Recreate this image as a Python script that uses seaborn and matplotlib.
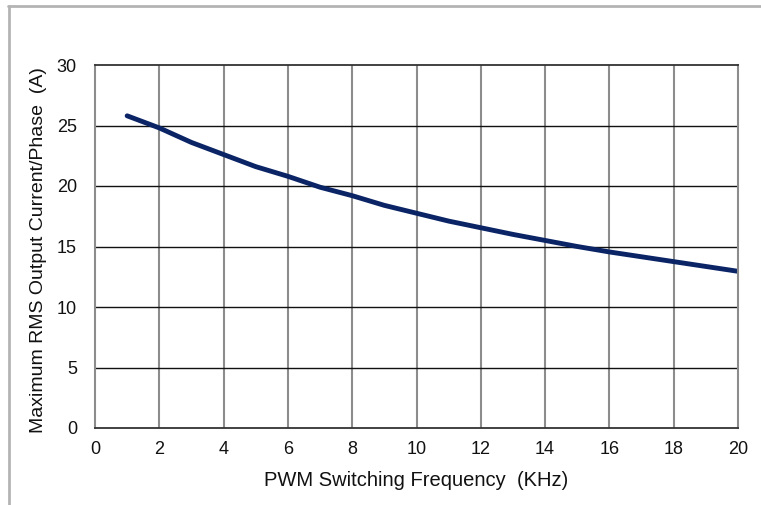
import pandas as pd
import matplotlib
matplotlib.use("Agg")
import matplotlib.pyplot as plt
from matplotlib.lines import Line2D
import seaborn as sns

# data
freq_khz = [1, 2, 3, 4, 5, 6, 7, 8, 9, 10, 11, 12, 13, 14, 15, 16, 17, 18, 19, 20]
current_a = [25.8, 24.8, 23.6, 22.6, 21.6, 20.8, 19.9, 19.2, 18.4, 17.75,
             17.1, 16.55, 16.0, 15.5, 15.0, 14.55, 14.15, 13.75, 13.35, 12.95]
x_ticks = [0, 2, 4, 6, 8, 10, 12, 14, 16, 18, 20]
y_ticks = [0, 5, 10, 15, 20, 25, 30]

df = pd.DataFrame({"freq": freq_khz, "current": current_a})

sns.set_style("white")
plt.rcParams["font.family"] = ["Liberation Sans", "DejaVu Sans"]

fig = plt.figure(figsize=(7.61, 5.05), dpi=100)
ax = fig.add_axes([95 / 761, 77 / 505, 643 / 761, 363 / 505])

sns.lineplot(data=df, x="freq", y="current", ax=ax, color="#0a2466", linewidth=3.5)

ax.set_xlim(0, 20)
ax.set_ylim(0, 30)
ax.set_xticks(x_ticks)
ax.set_yticks(y_ticks)

# grid: gray verticals, dark horizontals
ax.grid(False)
for xv in x_ticks[1:-1]:
    ax.axvline(xv, color="#8c8c8c", linewidth=1.5, zorder=0)
for yv in y_ticks[1:-1]:
    ax.axhline(yv, color="#111111", linewidth=1.0, zorder=0)

for side in ["left", "right"]:
    ax.spines[side].set_color("#8c8c8c")
    ax.spines[side].set_linewidth(1.5)
for side in ["top", "bottom"]:
    ax.spines[side].set_color("#333333")
    ax.spines[side].set_linewidth(1.3)

ax.tick_params(axis="both", length=0, labelsize=13, colors="#111111")
ax.tick_params(axis="x", pad=9)
ax.tick_params(axis="y", pad=13)

ax.set_xlabel("PWM Switching Frequency  (KHz)", fontsize=14.5, color="#111111")
ax.set_ylabel("Maximum RMS Output Current/Phase  (A)", fontsize=14, color="#111111")
ax.xaxis.set_label_coords(0.5, -0.118)
ax.yaxis.set_label_coords(-0.074, 0.49)

# outer frame of the original picture
fig.add_artist(Line2D([8 / 761, 1], [1 - 6 / 505, 1 - 6 / 505], transform=fig.transFigure,
                      color="#b4b4b4", linewidth=2))
fig.add_artist(Line2D([9 / 761, 9 / 761], [0, 1 - 6 / 505], transform=fig.transFigure,
                      color="#b4b4b4", linewidth=2))

fig.savefig("out.png", dpi=100)
plt.close(fig)
